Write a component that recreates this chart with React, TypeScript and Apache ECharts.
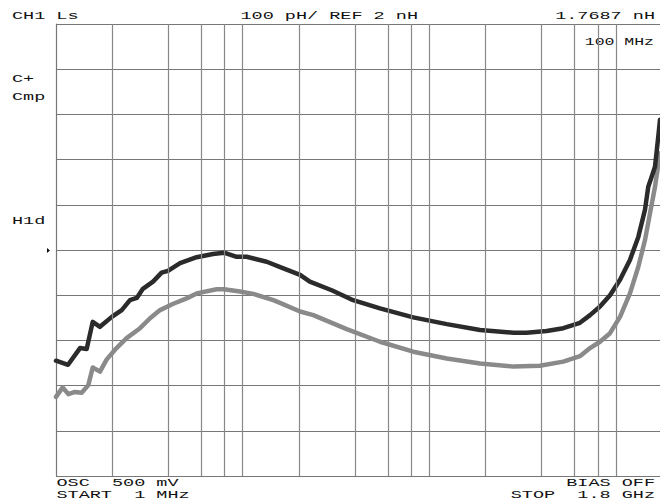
import React, { useEffect, useRef } from "react";
import * as echarts from "echarts";

// Frequency (MHz) and Ls (nH) (picture is cropped at ~1.72 GHz)
const freqBlack = [1, 1.16, 1.345, 1.46, 1.573, 1.72, 1.99, 2.25, 2.49, 2.71, 2.92, 3.31, 3.68, 3.98, 4.62, 5.67, 6.93, 7.94, 9.29, 10.5, 13.45, 16.4, 20.3, 22.9, 30, 39.1, 54.4, 82, 124, 187, 282, 332, 425, 522, 641, 726, 821, 929, 1051, 1188, 1317, 1430, 1489, 1553, 1618, 1685, 1721];
const lsBlack = [1.755, 1.746, 1.783, 1.781, 1.841, 1.830, 1.852, 1.867, 1.889, 1.894, 1.914, 1.930, 1.950, 1.954, 1.971, 1.984, 1.991, 1.994, 1.985, 1.985, 1.974, 1.960, 1.945, 1.930, 1.911, 1.889, 1.871, 1.851, 1.836, 1.823, 1.817, 1.817, 1.821, 1.827, 1.839, 1.856, 1.875, 1.900, 1.934, 1.978, 2.029, 2.089, 2.140, 2.162, 2.184, 2.251, 2.288];

const freqGray = [1, 1.086, 1.164, 1.264, 1.373, 1.49, 1.573, 1.72, 1.87, 2.11, 2.39, 2.82, 3.19, 3.61, 4.25, 5.01, 5.67, 7.26, 7.94, 9.68, 11.4, 14.6, 15.85, 20.3, 23.9, 36.1, 54.4, 82, 124, 187, 282, 391, 522, 641, 726, 821, 929, 1051, 1188, 1317, 1430, 1521, 1618, 1721];
const lsGray = [1.675, 1.696, 1.681, 1.686, 1.684, 1.701, 1.740, 1.731, 1.758, 1.783, 1.805, 1.827, 1.849, 1.867, 1.881, 1.893, 1.904, 1.913, 1.913, 1.908, 1.903, 1.889, 1.883, 1.864, 1.856, 1.825, 1.797, 1.775, 1.760, 1.749, 1.742, 1.744, 1.753, 1.765, 1.783, 1.797, 1.816, 1.852, 1.904, 1.963, 2.022, 2.081, 2.140, 2.214];

// Vertical graticule lines (MHz)
const gridFreqs = [2, 4, 6, 8, 10, 20, 40, 60, 80, 100, 200, 400, 600, 800, 1000];

// Axis scale (nH): REF 2 nH at centre, 100 pH/div
const yMin = 1.5;
const yMax = 2.5;
const yStep = 0.1;
// Sweep 1 MHz .. 1.8 GHz; the picture is cropped at about 1.72 GHz
const xStart = 1;
const xVisibleEnd = 1721;

// Annotation texts
const topLeftText = "CH1 Ls";
const topMidText = "100 pH/ REF 2 nH";
const topRightText = "1.7687 nH";
const markerText = "100 MHz";
const sideTexts = ["C+", "Cmp", "H1d"];
const bottomLeftTexts = ["OSC  500 mV", "START  1 MHz"];
const bottomRightTexts = ["BIAS OFF", "STOP  1.8 GHz"];

const FONT = "Liberation Mono";
const FS = 10;
const SX = 1.85;

function txt(text: string, x: number, y: number, align: string, sx: number = SX) {
  return {
    type: "text",
    x,
    y,
    scaleX: sx,
    silent: true,
    style: {
      text,
      fontFamily: FONT,
      fontSize: FS,
      fill: "#111",
      align,
      verticalAlign: "middle",
    },
  };
}

export default function App() {
  const ref = useRef<HTMLDivElement>(null);
  useEffect(() => {
    if (!ref.current) return;
    const chart = echarts.init(ref.current, null, { renderer: "svg" });
    const graphic: any[] = [
      txt(topLeftText, 12, 16, "left"),
      txt(topMidText, 240.5, 16, "left"),
      txt(topRightText, 655, 16, "right"),
      txt(markerText, 654, 42, "right", 1.65),
      txt(sideTexts[0], 12, 79, "left"),
      txt(sideTexts[1], 12, 97, "left"),
      txt(sideTexts[2], 12, 221, "left"),
      txt(bottomLeftTexts[0], 56.5, 483, "left"),
      txt(bottomLeftTexts[1], 56.5, 495, "left"),
      txt(bottomRightTexts[0], 655, 483, "right"),
      txt(bottomRightTexts[1], 655, 495, "right"),
      {
        type: "polygon",
        silent: true,
        shape: { points: [[47, 248], [47, 253], [50, 250.5]] },
        style: { fill: "#111" },
      },
    ];
    chart.setOption({
      animation: false,
      backgroundColor: "#fff",
      grid: { left: 56, top: 24, width: 604, height: 452 },
      xAxis: {
        type: "log",
        logBase: 10,
        min: xStart,
        max: xVisibleEnd,
        axisLine: { show: false },
        axisTick: { show: false },
        axisLabel: { show: false },
        splitLine: { show: false },
        minorSplitLine: { show: false },
      },
      yAxis: {
        type: "value",
        min: yMin,
        max: yMax,
        interval: yStep,
        axisLine: { show: true, lineStyle: { color: "#777", width: 1.2 } },
        axisTick: { show: false },
        axisLabel: { show: false },
        splitLine: { show: true, lineStyle: { color: "#777", width: 1.2 } },
      },
      graphic,
      series: [
        {
          type: "line",
          data: [],
          z: 1,
          silent: true,
          markLine: {
            silent: true,
            symbol: ["none", "none"],
            label: { show: false },
            lineStyle: { type: "solid", color: "#888", width: 1.2 },
            emphasis: { disabled: true },
            data: gridFreqs.map((f) => ({ xAxis: f })),
          },
        },
        {
          type: "line",
          z: 3,
          silent: true,
          showSymbol: false,
          smooth: false,
          data: freqGray.map((f, i) => [f, lsGray[i]]),
          lineStyle: { color: "#8a8a8a", width: 4.5, join: "round", cap: "round" },
        },
        {
          type: "line",
          z: 4,
          silent: true,
          showSymbol: false,
          smooth: false,
          data: freqBlack.map((f, i) => [f, lsBlack[i]]),
          lineStyle: { color: "#2b2b2b", width: 4.5, join: "round", cap: "round" },
        },
      ],
    });
    return () => chart.dispose();
  }, []);
  return (
    <div
      ref={ref}
      style={{ position: "fixed", left: 0, top: 0, width: 660, height: 504, background: "#fff" }}
    />
  );
}
